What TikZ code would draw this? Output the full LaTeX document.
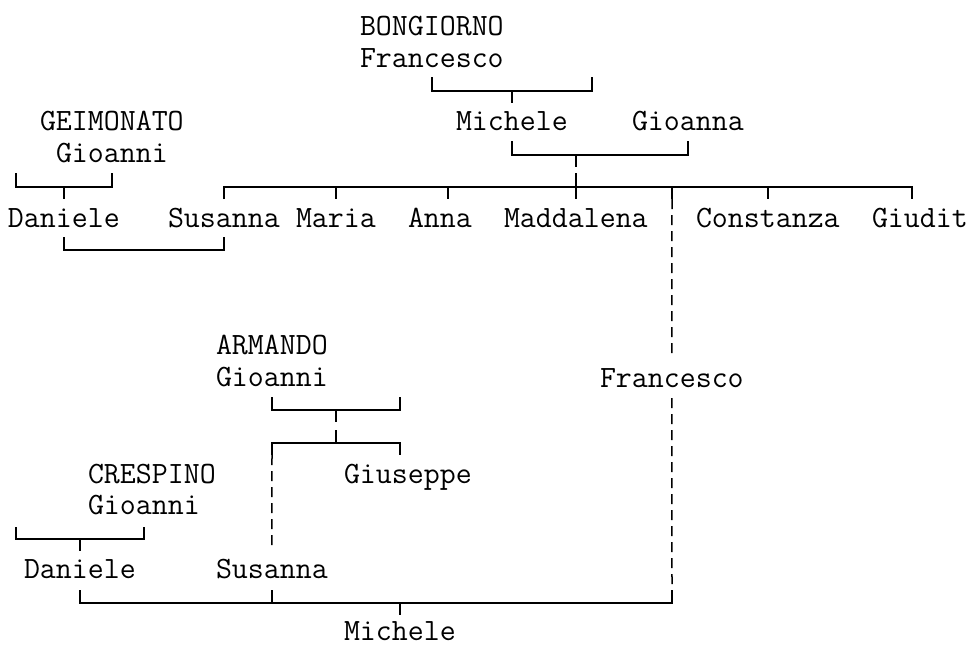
\documentclass[tikz,border=0pt]{standalone}
\usepackage{fontspec}
\begin{document}
\begin{tikzpicture}[x=1pt,y=-1pt,
  nm/.style={font=\ttfamily\fontsize{31}{32}\selectfont, anchor=base west, inner sep=0pt, outer sep=0pt},
  ln/.style={line width=1.5pt, line cap=butt, line join=miter},
  dsh/.style={line width=1.5pt, dash pattern=on 10pt off 6pt}]
\fill[white] (0,0) rectangle (971,646);
\useasboundingbox (0,0) rectangle (971,646);
% names
\node[nm] (bong) at (360,35) {BONGIORNO};
\node[nm] (fran1) at (360,67) {Francesco};
\node[nm] (mich1) at (456,130) {Michele};
\node[nm] (gioanna) at (632,130) {Gioanna};
\node[nm] (geim) at (40,130) {GEIMONATO};
\node[nm] (gioa1) at (56,162) {Gioanni};
\node[nm] (dan1) at (8,227) {Daniele};
\node[nm] (sus1) at (168,227) {Susanna};
\node[nm] (maria) at (296,227) {Maria};
\node[nm] (anna) at (408,227) {Anna};
\node[nm] (madd) at (504,227) {Maddalena};
\node[nm] (cons) at (696,227) {Constanza};
\node[nm] (giud) at (872,227) {Giudit};
\node[nm] (arm) at (216,354) {ARMANDO};
\node[nm] (gioa2) at (216,386) {Gioanni};
\node[nm] (fran2) at (600,387) {Francesco};
\node[nm] (gius) at (344,483) {Giuseppe};
\node[nm] (cresp) at (88,483) {CRESPINO};
\node[nm] (gioa3) at (88,514) {Gioanni};
\node[nm] (dan2) at (24,578) {Daniele};
\node[nm] (sus2) at (216,578) {Susanna};
\node[nm] (mich2) at (344,640) {Michele};
% junction coordinates
\coordinate (fr1L) at (432,77);  \coordinate (fr1R) at (592,77);  \coordinate (fr1M) at (512,91);
\coordinate (mgL) at (512,141);  \coordinate (mgR) at (688,141);  \coordinate (mgM) at (576,155);
\coordinate (geL) at (16,173);   \coordinate (geR) at (112,173);  \coordinate (geM) at (64,187);
\coordinate (sibL) at (224,199); \coordinate (sibR) at (912,199); \coordinate (sibY) at (0,187);
\coordinate (dsL) at (64,237);   \coordinate (dsR) at (224,237);  \coordinate (dsY) at (0,250);
\coordinate (arL) at (272,397);  \coordinate (arR) at (400,397);  \coordinate (arM) at (336,410);
\coordinate (chL) at (272,455);  \coordinate (chR) at (400,455);  \coordinate (chM) at (336,443);
\coordinate (crL) at (16,527);   \coordinate (crR) at (144,527);  \coordinate (crM) at (80,539);
\coordinate (bmL) at (80,590);   \coordinate (bmR) at (672,590);  \coordinate (bmM) at (400,603);
% Bongiorno Francesco -> Michele
\draw[ln] (fr1L) |- (fr1M) -| (fr1R);
\draw[ln] (fr1M) -- ++(0,12);
% Michele + Gioanna
\draw[ln] (mgL) |- (mgM) -| (mgR);
\draw[ln] (mgM) -- ++(0,12);
\draw[ln] (576,173) -- (576,199);
% Geimonato Gioanni -> Daniele
\draw[ln] (geL) |- (geM) -| (geR);
\draw[ln] (geM) -- ++(0,12);
% siblings line
\draw[ln] (sibL) |- (sibY -| sibR) -- (sibR);
\foreach \x in {336,448,672,768} \draw[ln] (\x,187) -- (\x,199);
% Daniele + Susanna
\draw[ln] (dsL) |- (dsY -| dsR) -- (dsR);
% Francesco dashed
\draw[dsh, shorten >=10pt] (672,199) -- (fran2.north);
\draw[dsh, shorten <=11pt] (fran2.south) -- (bmR);
% Armando
\draw[ln] (arL) |- (arM) -| (arR);
\draw[ln] (arM) -- ++(0,12);
\draw[ln] (chL) |- (chM) -| (chR);
\draw[ln] (chM) -- ++(0,-13);
\draw[dsh, shorten >=8pt] (chL) -- (sus2.north);
% Crespino
\draw[ln] (crL) |- (crM) -| (crR);
\draw[ln] (crM) -- ++(0,12);
% bottom
\draw[ln] (bmL) |- (bmM) -| (bmR);
\draw[ln] (272,590) -- (272,603);
\draw[ln] (bmM) -- ++(0,12);
\end{tikzpicture}
\end{document}
